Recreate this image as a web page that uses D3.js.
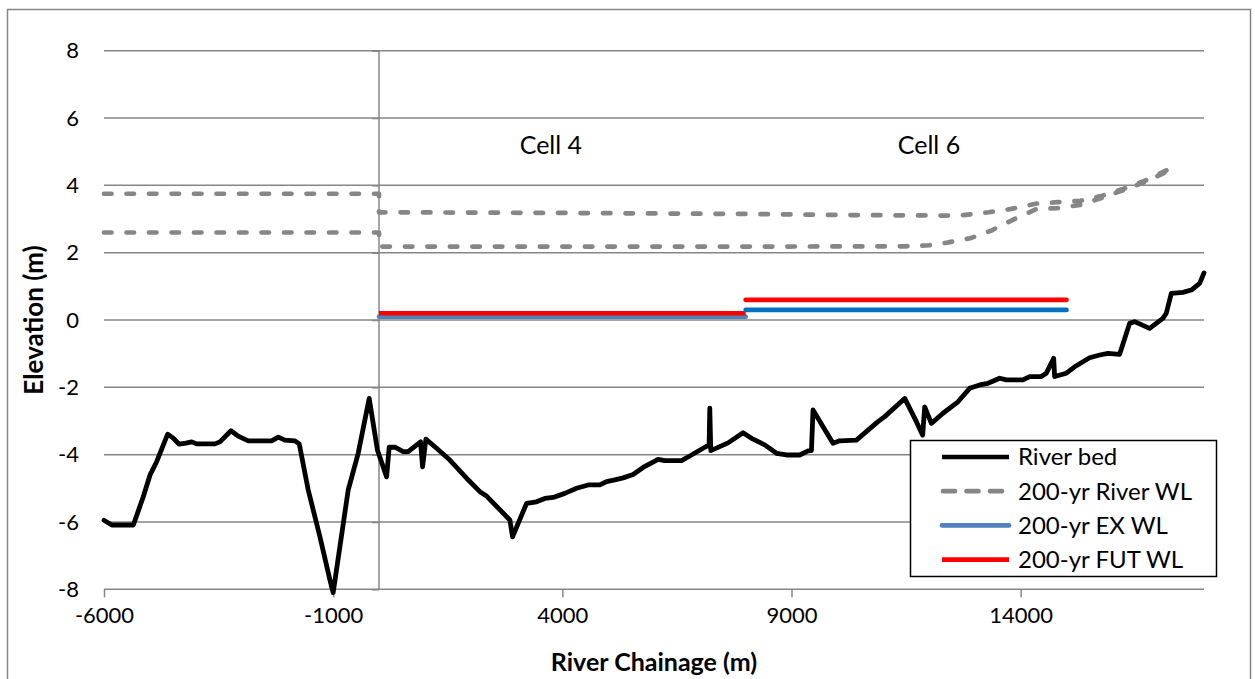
<!DOCTYPE html>
<html>
<head>
<meta charset="utf-8">
<script src="https://cdn.jsdelivr.net/npm/d3@7"></script>
<style>
  html, body { margin: 0; padding: 0; background: #fff; }
  svg { display: block; }
  text { font-family: Lato, "Open Sans", sans-serif; fill: #000; }
</style>
</head>
<body>
<svg id="chart" width="1255" height="679"></svg>
<script>
// ---------- data ----------
const xTicks = [-6000, -1000, 4000, 9000, 14000];
const yTicks = [-8, -6, -4, -2, 0, 2, 4, 6, 8];

const bedChainage = [-6000,-5830,-5360,-5143,-4997,-4851,-4611,-4489,-4364,-4212,-4087,-3978,-3579,-3470,-3230,-3071,-2853,-2342,-2198,-2052,-1834,-1740,-1544,-1289,-1071,-1000,-672,-454,-214,-35,166,222,347,528,637,907,951,1023,1256,1546,1911,2201,2347,2855,2914,3219,3437,3618,3799,4054,4310,4563,4818,4964,5145,5326,5544,5762,6089,6235,6600,6781,7071,7202,7217,7239,7616,7943,8161,8416,8672,8890,9180,9361,9435,9470,9688,9906,10052,10416,10887,11034,11470,11725,11862,11906,12052,12305,12632,12887,13106,13287,13542,13688,14050,14196,14451,14560,14720,14741,14997,15178,15505,15723,15904,16159,16377,16486,16813,17103,17177,17287,17540,17723,17905,18000];
const bedElevation = [-5.95,-6.09,-6.09,-5.25,-4.61,-4.21,-3.39,-3.51,-3.69,-3.66,-3.62,-3.68,-3.68,-3.62,-3.29,-3.45,-3.59,-3.59,-3.48,-3.57,-3.59,-3.68,-5.05,-6.44,-7.72,-8.1,-5.05,-3.96,-2.33,-3.86,-4.66,-3.78,-3.78,-3.91,-3.91,-3.62,-4.36,-3.54,-3.81,-4.16,-4.70,-5.10,-5.23,-5.94,-6.44,-5.45,-5.40,-5.30,-5.27,-5.15,-5.00,-4.90,-4.90,-4.80,-4.75,-4.69,-4.59,-4.38,-4.14,-4.18,-4.18,-4.04,-3.81,-3.71,-2.62,-3.88,-3.65,-3.35,-3.54,-3.71,-3.96,-4.01,-4.01,-3.89,-3.88,-2.67,-3.17,-3.66,-3.59,-3.57,-3.02,-2.87,-2.33,-3.02,-3.42,-2.58,-3.07,-2.77,-2.43,-2.03,-1.93,-1.88,-1.73,-1.78,-1.78,-1.68,-1.68,-1.58,-1.14,-1.68,-1.58,-1.39,-1.12,-1.04,-0.99,-1.02,-0.10,-0.05,-0.25,0.05,0.20,0.79,0.82,0.89,1.09,1.40];

const wlUpperChainage = [-6000,0,0,4000,8000,10000,12600,13000,13300,13800,14350,14800,15300,15750,16250,16750,17300];
const wlUpperElevation = [3.75,3.75,3.20,3.18,3.15,3.12,3.10,3.15,3.20,3.30,3.46,3.50,3.54,3.68,3.90,4.16,4.52];
const wlLowerChainage = [-6000,0,0,4000,8000,11500,12000,12400,12900,13350,13850,14350,14800,15300,15750,16250,16750,17300];
const wlLowerElevation = [2.60,2.60,2.18,2.18,2.18,2.19,2.22,2.30,2.43,2.65,2.99,3.30,3.32,3.42,3.62,3.86,4.12,4.48];

const exCell4Chainage = [0, 8000];   const exCell4Elevation = [0.10, 0.10];
const exCell6Chainage = [8000, 15000]; const exCell6Elevation = [0.30, 0.30];
const futCell4Chainage = [0, 8000];  const futCell4Elevation = [0.20, 0.20];
const futCell6Chainage = [8000, 15000]; const futCell6Elevation = [0.60, 0.60];

const cellLabels = ["Cell 4", "Cell 6"];
const cellChainage = [3750, 12000];
const cellElevation = [5.2, 5.2];

const legendLabels = ["River bed", "200-yr River WL", "200-yr EX WL", "200-yr FUT WL"];

// ---------- setup ----------
const svg = d3.select("#chart");
const x = d3.scaleLinear().domain([-6000, 18000]).range([104, 1204]);
const y = d3.scaleLinear().domain([-8, 8]).range([589.3, 50.7]);
const zip = (a, b) => a.map((v, i) => [v, b[i]]);
const line = d3.line().x(d => x(d[0])).y(d => y(d[1]));

const gridColor = "#868686";

// outer chart border
svg.append("rect").attr("x", 7.5).attr("y", 9.5).attr("width", 1243).attr("height", 690)
  .attr("fill", "#fff").attr("stroke", gridColor).attr("stroke-width", 1.5);

// horizontal gridlines
svg.append("g").selectAll("line").data(yTicks).join("line")
  .attr("x1", x(-6000)).attr("x2", x(18000))
  .attr("y1", d => y(d)).attr("y2", d => y(d))
  .attr("stroke", gridColor).attr("stroke-width", 1.5);

// x axis (at y = -8)
const xAxis = d3.axisBottom(x).tickValues(xTicks).tickSize(8).tickPadding(10)
  .tickFormat(d => String(d));
const gx = svg.append("g").attr("transform", `translate(0,${y(-8)})`).call(xAxis);
gx.select(".domain").remove();
gx.selectAll(".tick line").attr("stroke", gridColor).attr("stroke-width", 1.5);
gx.selectAll(".tick text").attr("font-size", 22).attr("font-family", "Lato").attr("fill", "#000");

// y axis (crossing at chainage 0), labels placed low
const yAxis = d3.axisLeft(y).tickValues(yTicks).tickSize(7).tickFormat("");
const gy = svg.append("g").attr("transform", `translate(${x(0)},0)`).call(yAxis);
gy.select(".domain").attr("stroke", gridColor).attr("stroke-width", 1.5).attr("d", `M0,${y(-8)}V${y(8)}`);
gy.selectAll(".tick line").attr("stroke", gridColor).attr("stroke-width", 1.5);

svg.append("g").selectAll("text").data(yTicks).join("text")
  .attr("x", 79).attr("y", d => y(d)).attr("dy", "0.35em")
  .attr("text-anchor", "end").attr("font-size", 22)
  .text(d => String(d));

// axis titles
svg.append("text").attr("x", 654).attr("y", 662).attr("dy", "0.35em")
  .attr("text-anchor", "middle").attr("font-size", 25).attr("font-weight", "bold")
  .text("River Chainage (m)");
svg.append("text").attr("transform", `translate(34,${y(0)}) rotate(-90)`).attr("dy", "0.35em")
  .attr("text-anchor", "middle").attr("font-size", 26).attr("font-weight", "bold")
  .text("Elevation (m)");

// cell labels
svg.append("g").selectAll("text").data(cellLabels).join("text")
  .attr("x", (d, i) => x(cellChainage[i])).attr("y", (d, i) => y(cellElevation[i]))
  .attr("dy", "0.35em").attr("text-anchor", "middle").attr("font-size", 25)
  .text(d => d);

// river WL dashed lines
const dashStyle = sel => sel.attr("fill", "none").attr("stroke", gridColor).attr("stroke-width", 4.7)
  .attr("stroke-dasharray", "7.5,15").attr("stroke-linecap", "round").attr("stroke-linejoin", "round");
svg.append("path").datum(zip(wlUpperChainage, wlUpperElevation)).attr("d", line).call(dashStyle);
svg.append("path").datum(zip(wlLowerChainage, wlLowerElevation)).attr("d", line).call(dashStyle);

// EX and FUT lines
const solid = (sel, color) => sel.attr("fill", "none").attr("stroke", color).attr("stroke-width", 4.7)
  .attr("stroke-linecap", "round");
svg.append("path").datum(zip(exCell4Chainage, exCell4Elevation)).attr("d", line).call(solid, "#4F81BD");
svg.append("path").datum(zip(futCell4Chainage, futCell4Elevation)).attr("d", line).call(solid, "#FF0000").attr("stroke-linecap", "butt");
svg.append("path").datum(zip(exCell6Chainage, exCell6Elevation)).attr("d", line).call(solid, "#0070C0");
svg.append("path").datum(zip(futCell6Chainage, futCell6Elevation)).attr("d", line).call(solid, "#FF0000");

// river bed
svg.append("path").datum(zip(bedChainage, bedElevation)).attr("d", line)
  .attr("fill", "none").attr("stroke", "#000").attr("stroke-width", 4.8)
  .attr("stroke-linejoin", "round").attr("stroke-linecap", "round");

// legend
const lg = svg.append("g");
lg.append("rect").attr("x", 910.5).attr("y", 440.5).attr("width", 306).attr("height", 136)
  .attr("fill", "#fff").attr("stroke", "#000").attr("stroke-width", 1.5);
const legendStyles = [
  {color: "#000", dash: null, cap: "butt"},
  {color: gridColor, dash: "12,11.5", cap: "round"},
  {color: "#4F81BD", dash: null, cap: "round"},
  {color: "#FF0000", dash: null, cap: "butt"}
];
legendLabels.forEach((lab, i) => {
  const cy = 457 + i * 34.2;
  const l = lg.append("line").attr("x1", 942).attr("x2", 1009).attr("y1", cy).attr("y2", cy)
    .attr("stroke", legendStyles[i].color).attr("stroke-width", 4.7)
    .attr("stroke-linecap", legendStyles[i].cap);
  if (legendStyles[i].dash) { l.attr("stroke-dasharray", legendStyles[i].dash).attr("x1", 943).attr("x2", 1003); }
  lg.append("text").attr("x", 1018).attr("y", cy).attr("dy", "0.35em")
    .attr("font-size", 24).text(lab);
});
</script>
</body>
</html>
